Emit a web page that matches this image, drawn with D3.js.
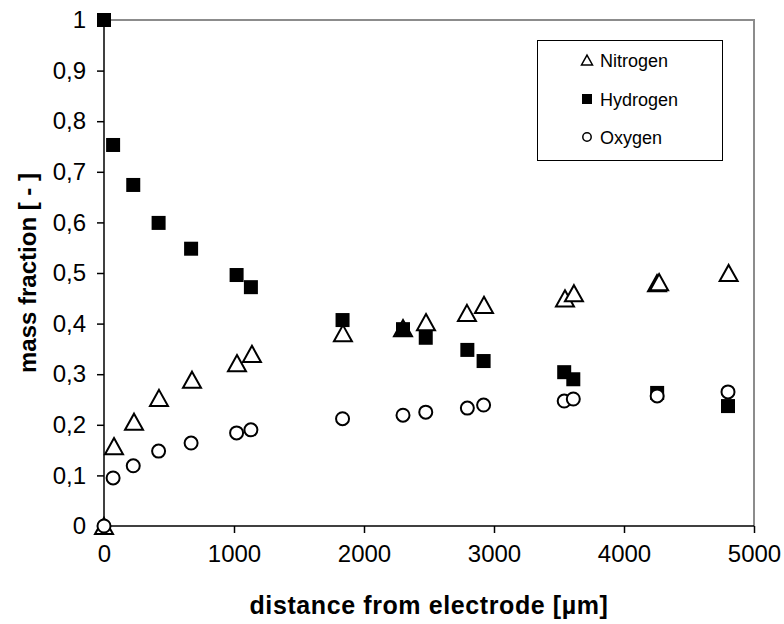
<!DOCTYPE html>
<html>
<head>
<meta charset="utf-8">
<script src="https://cdn.jsdelivr.net/npm/d3@7"></script>
<style>
  body { margin: 0; background: #fff; }
  text { font-family: "Liberation Sans", Arial, sans-serif; }
</style>
</head>
<body>
<script>
// distance from electrode (µm)
var distance = [0, 70, 225, 420, 670, 1020, 1130, 1835, 2300, 2475, 2795, 2920, 3540, 3610, 4255, 4800];
var hydrogen = [1.0, 0.753, 0.674, 0.599, 0.548, 0.496, 0.472, 0.407, 0.389, 0.372, 0.348, 0.326, 0.304, 0.290, 0.263, 0.237];
var oxygen   = [0.0, 0.095, 0.119, 0.148, 0.164, 0.184, 0.190, 0.212, 0.219, 0.225, 0.233, 0.239, 0.247, 0.251, 0.257, 0.265];
// nitrogen has one extra repeated point near 4260
var nitrogenX = [0, 77, 231, 423, 677, 1023, 1138, 1838, 2300, 2477, 2792, 2923, 3546, 3615, 4254, 4270, 4805];
var nitrogen  = [0.0, 0.158, 0.206, 0.253, 0.289, 0.322, 0.340, 0.381, 0.391, 0.403, 0.421, 0.437, 0.450, 0.460, 0.480, 0.482, 0.500];

var xTicks = [0, 1000, 2000, 3000, 4000, 5000];
var yTicks = [0, 0.1, 0.2, 0.3, 0.4, 0.5, 0.6, 0.7, 0.8, 0.9, 1];
var legendNames = ["Nitrogen", "Hydrogen", "Oxygen"];

var w = 784, h = 624;
var pLeft = 104, pRight = 754, pTop = 20, pBottom = 526;

var svg = d3.select("body").append("svg")
  .attr("width", w).attr("height", h);

var x = d3.scaleLinear().domain([0, 5000]).range([pLeft, pRight]);
var y = d3.scaleLinear().domain([0, 1]).range([pBottom, pTop]);

// plot area border (top & right, gray)
svg.append("path")
  .attr("d", "M" + pLeft + "," + pTop + "H" + pRight + "V" + pBottom)
  .attr("fill", "none").attr("stroke", "#8c8c8c").attr("stroke-width", 2);

var fmt = function(d){ return String(d3.format(".1~f")(d)).replace(".", ","); };

var xAxis = svg.append("g")
  .attr("transform", "translate(0," + pBottom + ")")
  .call(d3.axisBottom(x).tickValues(xTicks).tickSize(7).tickPadding(12).tickFormat(d3.format("d")));
xAxis.selectAll("text").attr("font-size", 24).attr("font-family", "Liberation Sans, Arial, sans-serif").attr("fill", "#000");

var yAxis = svg.append("g")
  .attr("transform", "translate(" + pLeft + ",0)")
  .call(d3.axisLeft(y).tickValues(yTicks).tickSize(7).tickPadding(11).tickFormat(fmt));
yAxis.selectAll("text").attr("font-size", 24).attr("font-family", "Liberation Sans, Arial, sans-serif").attr("fill", "#000");

[xAxis, yAxis].forEach(function(a){
  a.select(".domain").attr("stroke", "#000").attr("stroke-width", 1.5);
  a.selectAll(".tick line").attr("stroke", "#000").attr("stroke-width", 1.5);
});
xAxis.select(".domain").attr("d", "M" + pLeft + ",0H" + pRight);
yAxis.select(".domain").attr("d", "M0," + pBottom + "V" + pTop);

// axis titles
svg.append("text")
  .attr("x", (pLeft + pRight) / 2).attr("y", 614)
  .attr("text-anchor", "middle").attr("font-size", 25).attr("font-weight", "bold")
  .attr("letter-spacing", 0.6)
  .text("distance from electrode [µm]");

svg.append("text")
  .attr("transform", "translate(36," + ((pTop + pBottom) / 2) + ") rotate(-90)")
  .attr("text-anchor", "middle").attr("font-size", 24).attr("font-weight", "bold")
  .text("mass fraction [ - ]");

function triPath(s){
  var hw = s / 2, hh = s * 0.45;
  return "M0," + (-hh) + "L" + hw + "," + hh + "L" + (-hw) + "," + hh + "Z";
}

// Nitrogen (open triangles)
svg.append("g").selectAll("path")
  .data(nitrogen)
  .enter().append("path")
  .attr("transform", function(d, i){ return "translate(" + x(nitrogenX[i]) + "," + y(d) + ")"; })
  .attr("d", triPath(18))
  .attr("fill", "#fff").attr("stroke", "#000").attr("stroke-width", 2);

// Hydrogen (filled squares)
svg.append("g").selectAll("rect")
  .data(hydrogen)
  .enter().append("rect")
  .attr("x", function(d, i){ return x(distance[i]) - 7; })
  .attr("y", function(d){ return y(d) - 7; })
  .attr("width", 14).attr("height", 14)
  .attr("fill", "#000");

// Oxygen (open circles)
svg.append("g").selectAll("circle")
  .data(oxygen)
  .enter().append("circle")
  .attr("cx", function(d, i){ return x(distance[i]); })
  .attr("cy", function(d){ return y(d); })
  .attr("r", 6.5)
  .attr("fill", "#fff").attr("stroke", "#000").attr("stroke-width", 2);

// legend
var lg = svg.append("g");
lg.append("rect")
  .attr("x", 537.5).attr("y", 40.5).attr("width", 185).attr("height", 120)
  .attr("fill", "#fff").attr("stroke", "#000").attr("stroke-width", 1);

var ly = [60, 99, 137];
legendNames.forEach(function(name, i){
  var g = lg.append("g").attr("transform", "translate(587," + ly[i] + ")");
  if (i === 0) {
    g.append("path").attr("d", triPath(11)).attr("fill", "#fff").attr("stroke", "#000").attr("stroke-width", 1.5);
  } else if (i === 1) {
    g.append("rect").attr("x", -5).attr("y", -5).attr("width", 10).attr("height", 10).attr("fill", "#000");
  } else {
    g.append("circle").attr("r", 4.2).attr("fill", "#fff").attr("stroke", "#000").attr("stroke-width", 1.5);
  }
  g.append("text").attr("x", 13).attr("y", 6.5).attr("font-size", 18).text(name);
});
</script>
</body>
</html>
